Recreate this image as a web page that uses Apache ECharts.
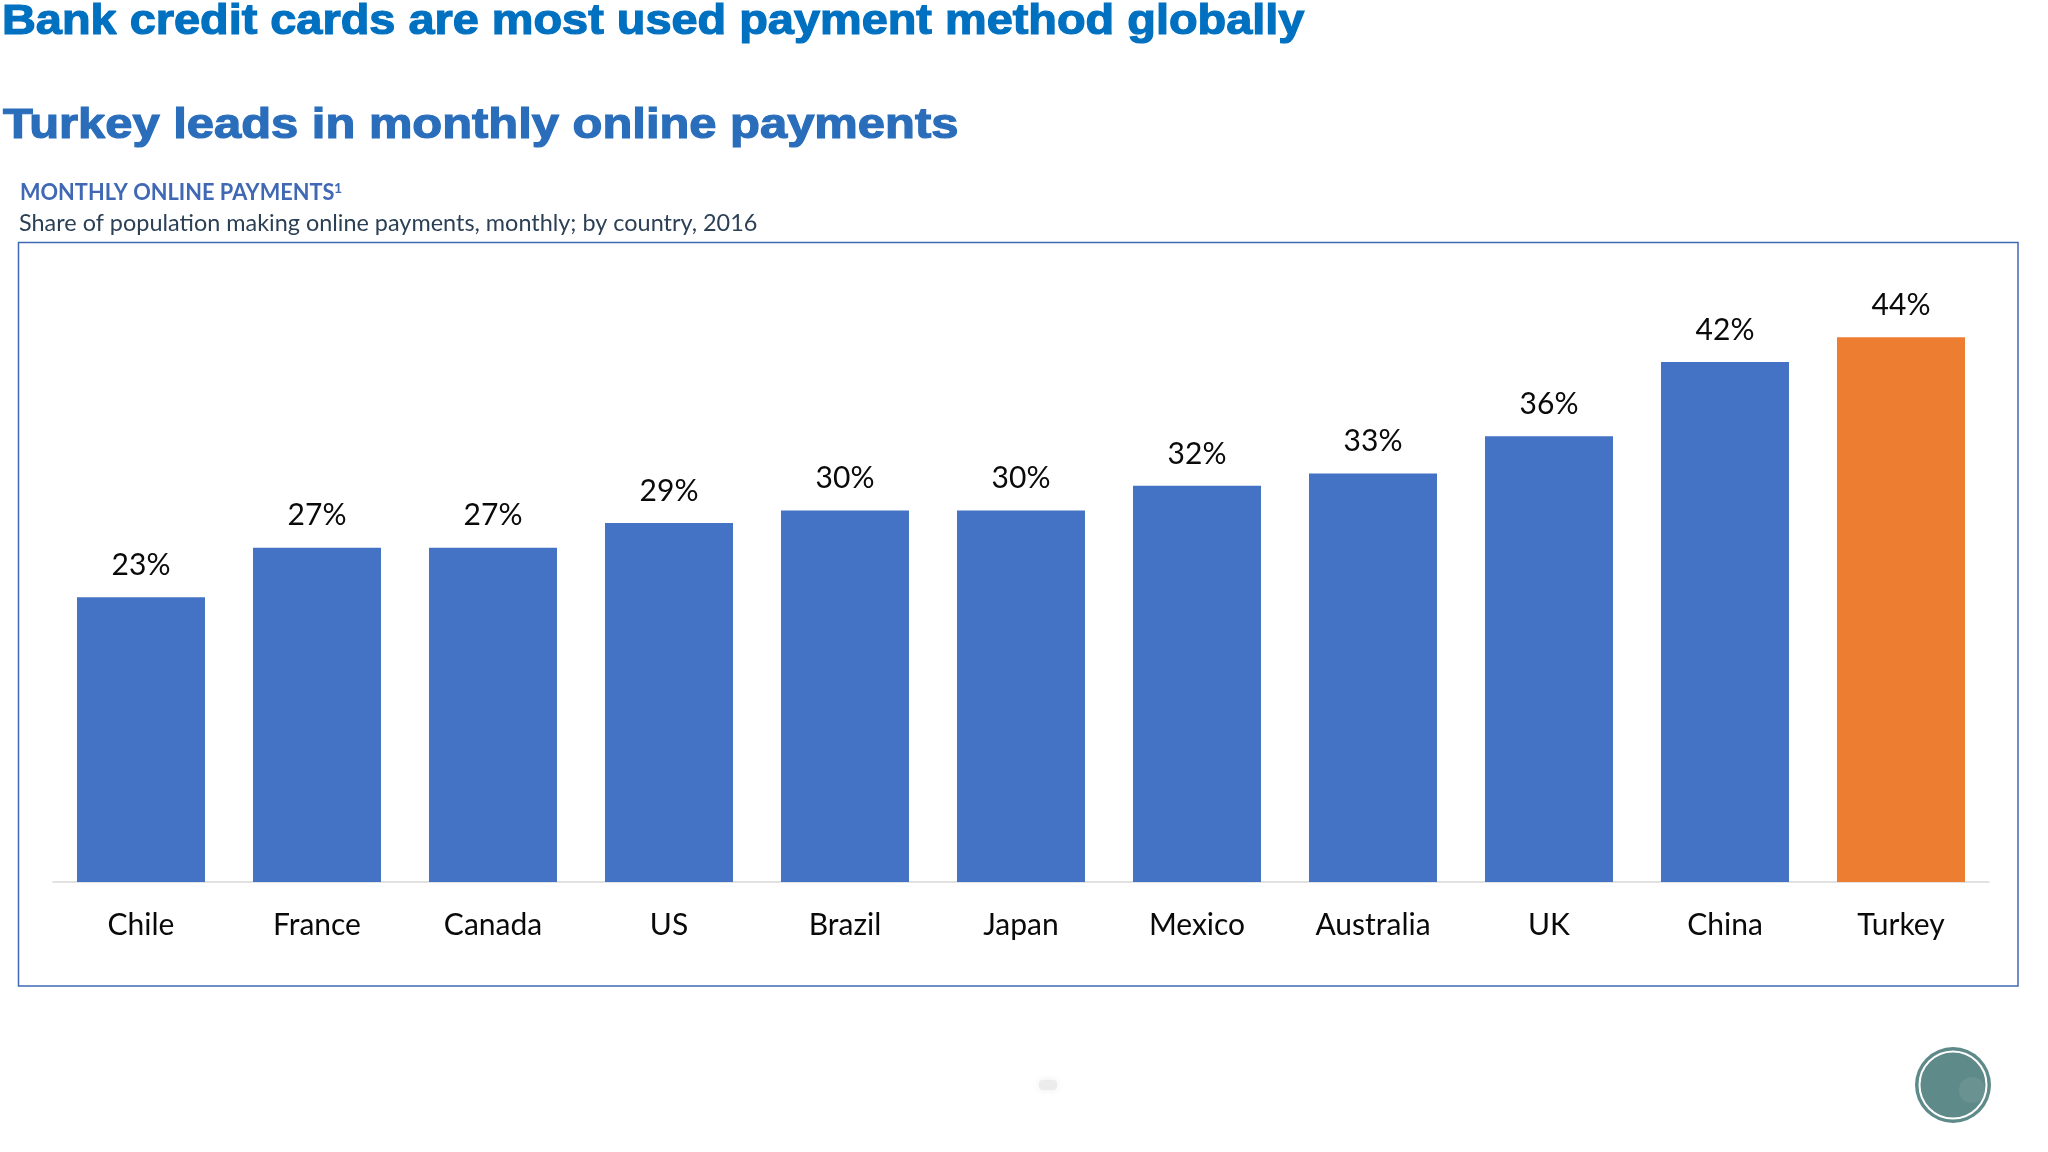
<!DOCTYPE html>
<html>
<head>
<meta charset="utf-8">
<title>Monthly online payments</title>
<style>
html, body { margin: 0; padding: 0; background: #fff; }
#chart { width: 2048px; height: 1152px; }
</style>
<script src="https://cdn.jsdelivr.net/npm/echarts@6/dist/echarts.min.js"></script>
</head>
<body>
<div id="chart"></div>
<script>
var countries = ['Chile', 'France', 'Canada', 'US', 'Brazil', 'Japan', 'Mexico', 'Australia', 'UK', 'China', 'Turkey'];
var shares = [23, 27, 27, 29, 30, 30, 32, 33, 36, 42, 44];
var highlighted = ['Turkey'];

var myChart = echarts.init(document.getElementById('chart'));

var barData = countries.map(function(name, i) {
    return {
        value: shares[i],
        itemStyle: { color: highlighted.indexOf(name) >= 0 ? '#ed7d31' : '#4472c4' }
    };
});

var option = {
    animation: false,
    backgroundColor: '#fff',
    grid: { left: 53, width: 1936, top: 263, height: 619 },
    xAxis: {
        type: 'category',
        data: countries,
        axisLine: { lineStyle: { color: '#d9d9d9', width: 1.5 } },
        axisTick: { show: false },
        axisLabel: { color: '#0a0a0a', fontFamily: 'Lato', fontSize: 30, margin: 28 }
    },
    yAxis: { type: 'value', min: 0, max: 50, show: false },
    series: [{
        type: 'bar',
        barWidth: 128,
        data: barData,
        label: {
            show: true,
            position: 'top',
            distance: 17,
            formatter: '{c}%',
            color: '#0a0a0a',
            fontFamily: 'Lato',
            fontSize: 30
        }
    }],
    graphic: [
        { type: 'text', x: 2, y: 1, scaleX: 1.116, style: { text: 'Bank credit cards are most used payment method globally', fill: '#0070c0', stroke: '#0070c0', lineWidth: 1.2, font: 'bold 42px "Liberation Sans"' } },
        { type: 'text', x: 3, y: 105, scaleX: 1.164, style: { text: 'Turkey leads in monthly online payments', fill: '#2a6ebb', stroke: '#2a6ebb', lineWidth: 1.2, font: 'bold 42px "Liberation Sans"' } },
        { type: 'text', x: 20, y: 181, scaleX: 0.945, style: { text: 'MONTHLY ONLINE PAYMENTS', fill: '#4068b4', font: 'bold 23px Lato' } },
        { type: 'text', x: 334, y: 181, style: { text: '1', fill: '#4068b4', font: 'bold 14px Lato' } },
        { type: 'text', x: 19, y: 211, scaleX: 0.976, style: { text: 'Share of population making online payments, monthly; by country, 2016', fill: '#2b3f55', font: '24px Lato' } },
        { type: 'rect', shape: { x: 18.5, y: 242.5, width: 1999.5, height: 743.5 }, style: { fill: 'none', stroke: '#4068b4', lineWidth: 1.5 } },
        { type: 'circle', shape: { cx: 1953, cy: 1085, r: 38 }, style: { fill: '#5f8a8a' } },
        { type: 'circle', shape: { cx: 1972, cy: 1090, r: 13 }, style: { fill: '#a9c4c2', opacity: 0.14 } },
        { type: 'circle', shape: { cx: 1953, cy: 1085, r: 33.5 }, style: { fill: 'none', stroke: '#fff', lineWidth: 2 } },
        { type: 'rect', shape: { x: 1039, y: 1080, width: 18, height: 10, r: 4 }, style: { fill: '#ececec', shadowBlur: 8, shadowColor: '#ececec' } }
    ]
};

myChart.setOption(option);
</script>
</body>
</html>
